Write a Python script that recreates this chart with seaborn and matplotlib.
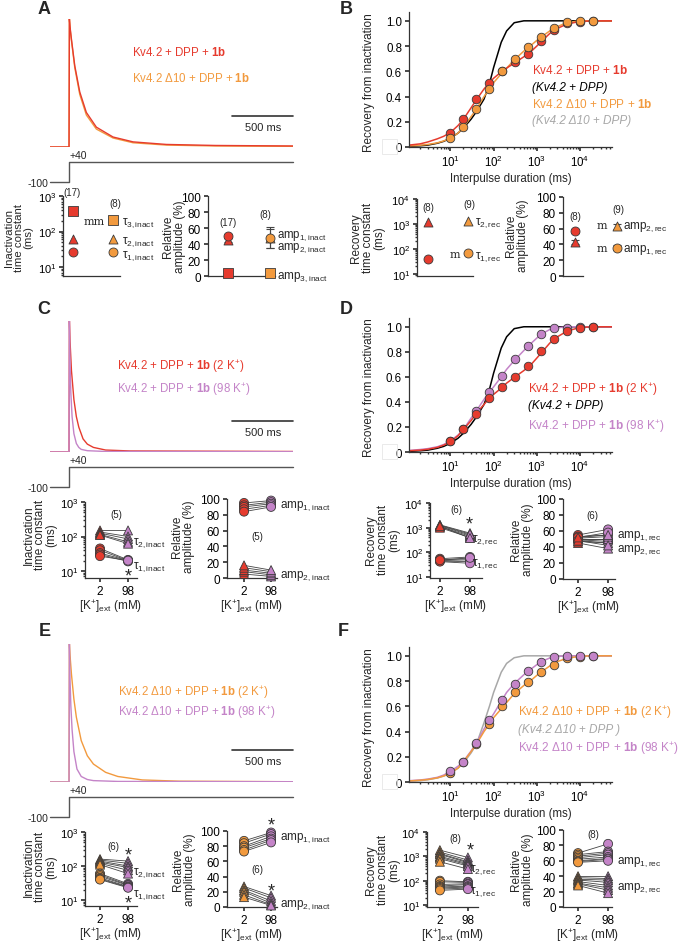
import numpy as np
import pandas as pd
import seaborn as sns
import matplotlib.pyplot as plt
from matplotlib.lines import Line2D
from matplotlib.patches import Rectangle
from matplotlib.ticker import LogLocator, LogFormatterSciNotation, NullFormatter

# colours
RED = "#E63B2E"
ORANGE = "#F29A3E"
PURPLE = "#C484C8"
GREY = "#A8A8A8"
EDGE = "#3a3a3a"

# ---------------- current traces (normalised, time in ms) ----------------
tA = [-156, 0, 3, 8, 20, 47, 88, 142, 224, 361, 525, 798, 1200, 1836]
iA_wt = [0, 0, 1.0, 0.94, 0.84, 0.635, 0.43, 0.27, 0.155, 0.078, 0.04, 0.02, 0.012, 0.008]
iA_d10 = [0, 0, 1.0, 0.93, 0.83, 0.62, 0.41, 0.25, 0.14, 0.07, 0.033, 0.015, 0.008, 0.005]

tC_2k = [-156, 0, 3, 8, 20, 40, 60, 80, 115, 150, 200, 300, 500, 1836]
iC_2k = [0, 0, 1.0, 0.85, 0.62, 0.40, 0.27, 0.19, 0.10, 0.06, 0.035, 0.015, 0.008, 0.004]
tC_98k = [-156, 0, 3, 8, 15, 25, 40, 60, 80, 100, 150, 300, 1836]
iC_98k = [0, 0, 1.0, 0.70, 0.45, 0.27, 0.14, 0.065, 0.035, 0.02, 0.01, 0.004, 0.002]

tE_2k = [-156, 0, 3, 8, 20, 40, 60, 100, 150, 200, 300, 400, 600, 900, 1836]
iE_2k = [0, 0, 1.0, 0.92, 0.78, 0.60, 0.47, 0.30, 0.19, 0.13, 0.07, 0.04, 0.015, 0.006, 0.002]
tE_98k = [-156, 0, 3, 8, 15, 25, 40, 65, 100, 150, 200, 400, 1836]
iE_98k = [0, 0, 1.0, 0.75, 0.55, 0.38, 0.22, 0.094, 0.04, 0.018, 0.01, 0.004, 0.002]

prot_t = [-156, 0, 0, 1836]
prot_v = [-100, -100, 40, 40]

# ---------------- recovery from inactivation ----------------
rec_t = [10, 20, 40, 80, 160, 320, 640, 1280, 2560, 5120, 10240, 20480]
recB_wt = [0.11, 0.22, 0.38, 0.51, 0.60, 0.67, 0.74, 0.84, 0.93, 0.98, 0.99, 1.0]
recB_d10 = [0.07, 0.16, 0.30, 0.46, 0.60, 0.70, 0.79, 0.87, 0.94, 0.99, 1.0, 1.0]
recD_2k = [0.09, 0.18, 0.30, 0.43, 0.52, 0.60, 0.69, 0.81, 0.90, 0.97, 0.99, 1.0]
recD_98k = [0.09, 0.18, 0.33, 0.48, 0.61, 0.74, 0.85, 0.94, 0.99, 0.99, 1.0, 1.0]
recF_2k = [0.07, 0.16, 0.30, 0.46, 0.60, 0.71, 0.79, 0.87, 0.93, 0.98, 0.99, 1.0]
recF_98k = [0.09, 0.16, 0.31, 0.49, 0.65, 0.78, 0.88, 0.95, 0.99, 1.0, 1.0, 1.0]

fit_x = [1.1, 2, 3, 5, 7, 10, 15, 20, 30, 40, 60, 80, 100, 150, 200, 300, 500, 700,
         1000, 1500, 2000, 3000, 5000, 10000, 20000, 55000]
fit_ctrl = [0.005, 0.01, 0.015, 0.03, 0.045, 0.07, 0.11, 0.15, 0.22, 0.28, 0.38, 0.5, 0.63,
            0.83, 0.92, 0.985, 1.0, 1.0, 1.0, 1.0, 1.0, 1.0, 1.0, 1.0, 1.0, 1.0]
fit_ctrl_d10 = [0.005, 0.01, 0.018, 0.032, 0.047, 0.07, 0.11, 0.15, 0.23, 0.30, 0.47, 0.60,
                0.71, 0.87, 0.94, 0.985, 1.0, 1.0, 1.0, 1.0, 1.0, 1.0, 1.0, 1.0, 1.0, 1.0]
fitB_wt = [0.015, 0.025, 0.04, 0.065, 0.085, 0.115, 0.17, 0.22, 0.31, 0.375, 0.46, 0.51, 0.545,
           0.595, 0.625, 0.665, 0.715, 0.75, 0.80, 0.86, 0.90, 0.94, 0.975, 0.995, 1.0, 1.0]
fitB_d10 = [0.008, 0.014, 0.02, 0.033, 0.048, 0.07, 0.11, 0.155, 0.24, 0.30, 0.40, 0.46, 0.51,
            0.58, 0.625, 0.69, 0.76, 0.80, 0.845, 0.89, 0.92, 0.955, 0.985, 1.0, 1.0, 1.0]
fitD_2k = [0.01, 0.015, 0.022, 0.037, 0.055, 0.08, 0.13, 0.18, 0.25, 0.31, 0.38, 0.43, 0.46,
           0.51, 0.55, 0.595, 0.65, 0.69, 0.75, 0.82, 0.87, 0.92, 0.965, 0.995, 1.0, 1.0]
fitD_98k = [0.012, 0.02, 0.027, 0.042, 0.06, 0.09, 0.135, 0.18, 0.27, 0.33, 0.42, 0.48, 0.52,
            0.60, 0.66, 0.73, 0.81, 0.86, 0.91, 0.955, 0.978, 0.992, 1.0, 1.0, 1.0, 1.0]
fitF_2k = [0.008, 0.014, 0.02, 0.033, 0.048, 0.07, 0.11, 0.16, 0.24, 0.30, 0.40, 0.46, 0.51,
           0.58, 0.63, 0.70, 0.765, 0.80, 0.845, 0.89, 0.92, 0.955, 0.98, 0.997, 1.0, 1.0]
fitF_98k = [0.01, 0.016, 0.023, 0.037, 0.055, 0.085, 0.125, 0.165, 0.245, 0.31, 0.42, 0.49, 0.54,
            0.64, 0.71, 0.78, 0.85, 0.89, 0.93, 0.965, 0.983, 0.995, 1.0, 1.0, 1.0, 1.0]

# ---------------- summary A / B (wt, d10) ----------------
A_tau_wt = [380, 61, 26]      # tau3, tau2, tau1
A_tau_d10 = [210, 61, 26]
A_amp_wt = [4, 45, 50]        # amp3, amp2, amp1
A_amp_d10 = [4, 48, 47]
A_amp_err_wt = [1, 3, 3]
A_amp_err_d10 = [1, 13, 12]
B_tau_wt = [1200, 40]         # tau2, tau1
B_tau_d10 = [1300, 69]
B_amp_wt = [43, 57]           # triangle, circle
B_amp_d10 = [63, 36]
B_amp_err = [3, 3]

# ---------------- paired data (2 mM vs 98 mM K+) ----------------
C_tau2 = ([150, 135, 125, 115, 110], [150, 100, 85, 70, 62])
C_tau1 = ([45, 40, 33, 30, 27], [21, 20, 20, 19, 20])
C_amp1 = ([95, 92, 90, 87, 84], [98, 96, 94, 92, 90])
C_amp2 = ([5, 8, 10, 13, 16], [2, 4, 6, 8, 10])

D_tau2 = ([1300, 1200, 1100, 1000, 1250, 1150], [600, 500, 450, 400, 550, 380])
D_tau1 = ([55, 50, 46, 44, 42, 48], [65, 55, 50, 42, 36, 60])
D_amp1 = ([55, 53, 50, 49, 52, 48], [62, 55, 50, 47, 58, 45])
D_amp2 = ([45, 47, 50, 51, 48, 52], [38, 45, 50, 53, 42, 55])

E_tau2 = ([160, 150, 140, 130, 120, 110], [140, 120, 100, 90, 75, 60])
E_tau1 = ([60, 55, 50, 45, 42, 40], [30, 28, 27, 25, 24, 23])
E_amp1 = ([87, 84, 80, 78, 75, 73], [98, 96, 93, 90, 88, 85])
E_amp2 = ([27, 25, 22, 20, 16, 13], [15, 12, 8, 5, 3, 2])

F_tau2 = ([1800, 1500, 1300, 1200, 1000, 900, 800, 600], [900, 700, 600, 550, 500, 450, 400, 300])
F_tau1 = ([100, 90, 70, 60, 55, 50, 45, 40], [90, 85, 75, 70, 60, 55, 50, 45])
F_amp1 = ([70, 68, 66, 64, 62, 60, 59, 58], [82, 72, 70, 68, 65, 63, 62, 60])
F_amp2 = ([40, 38, 36, 35, 33, 31, 30, 28], [40, 37, 35, 32, 28, 25, 22, 18])

# ---------------- style ----------------
sns.set_theme(style="ticks")
plt.rcParams['font.family'] = ['Liberation Sans', 'DejaVu Sans']
plt.rcParams['mathtext.fontset'] = 'custom'
plt.rcParams['mathtext.rm'] = 'Liberation Sans'
plt.rcParams['mathtext.it'] = 'Liberation Sans:italic'
plt.rcParams['mathtext.bf'] = 'Liberation Sans:bold'
plt.rcParams['axes.edgecolor'] = '#333333'
plt.rcParams['axes.linewidth'] = 0.9
plt.rcParams['xtick.color'] = '#333333'
plt.rcParams['ytick.color'] = '#333333'
plt.rcParams['xtick.labelcolor'] = 'black'
plt.rcParams['ytick.labelcolor'] = 'black'
plt.rcParams['xtick.major.size'] = 3
plt.rcParams['ytick.major.size'] = 3
plt.rcParams['xtick.minor.size'] = 1.5
plt.rcParams['ytick.minor.size'] = 1.5
plt.rcParams['xtick.major.pad'] = 2
plt.rcParams['ytick.major.pad'] = 2

W, H = 685, 945
fig = plt.figure(figsize=(W / 100, H / 100), dpi=100)


def box(l, t, r, b):
    return fig.add_axes([l / W, 1 - b / H, (r - l) / W, (b - t) / H])


def ptext(x, y, s, **kw):
    kw.setdefault('ha', 'left')
    kw.setdefault('va', 'center')
    fig.text(x / W, 1 - y / H, s, **kw)


def pline(xs, ys, **kw):
    fig.add_artist(Line2D([x / W for x in xs], [1 - y / H for y in ys], **kw))


def label_block(x, y, s, fs=8.5):
    ptext(x, y, s, rotation=90, ha='center', va='center', multialignment='center',
          fontsize=fs, linespacing=0.95)


def log_ticks(axis):
    axis.set_major_locator(LogLocator(base=10, numticks=12))
    axis.set_major_formatter(LogFormatterSciNotation())
    axis.set_minor_locator(LogLocator(base=10, subs=np.arange(2, 10), numticks=120))
    axis.set_minor_formatter(NullFormatter())


# ---------------- trace panels ----------------
def trace_panel(top, base, curves, bar_y, p_top, p_bot):
    ax = box(50, top, 293, base)
    ax.set_xlim(-156, 1836)
    ax.set_ylim(0, 1)
    ax.axis('off')
    for t, i, c in curves:
        sns.lineplot(x=t, y=i, ax=ax, color=c, lw=1.0, estimator=None, sort=False)
    ax.plot([-156, 1836], [0, 0], ls=(0, (1, 1.5)), color='#222222', lw=0.7, zorder=5)
    pline([232, 293], [bar_y, bar_y], color='#333333', lw=1.2)
    ptext(263, bar_y + 11, "500 ms", ha='center', fontsize=8)
    pax = box(50, p_top, 293, p_bot)
    pax.set_xlim(-156, 1836)
    pax.set_ylim(-100, 40)
    pax.axis('off')
    pax.plot(prot_t, prot_v, color='#555555', lw=1.0, clip_on=False)
    ptext(70, p_top - 7, "+40", fontsize=7.5)
    ptext(48, p_bot + 1, "-100", ha='right', fontsize=7.5)


trace_panel(20, 148, [(tA, iA_d10, ORANGE), (tA, iA_wt, RED)], 117, 163, 183)
ptext(132, 52, r"Kv4.2 + DPP + $\mathbf{1b}$", color=RED, fontsize=8.3)
ptext(132, 78, r"Kv4.2 Δ10 + DPP + $\mathbf{1b}$", color=ORANGE, fontsize=8.3)

trace_panel(322, 453, [(tC_2k, iC_2k, RED), (tC_98k, iC_98k, PURPLE)], 422, 468, 488)
ptext(117, 367, r"Kv4.2 + DPP + $\mathbf{1b}$ (2 K$^{+}$)", color=RED, fontsize=8.3)
ptext(117, 390, r"Kv4.2 + DPP + $\mathbf{1b}$ (98 K$^{+}$)", color=PURPLE, fontsize=8.3)

trace_panel(645, 783, [(tE_2k, iE_2k, ORANGE), (tE_98k, iE_98k, PURPLE)], 751, 798, 818)
ptext(118, 693, r"Kv4.2 Δ10 + DPP + $\mathbf{1b}$ (2 K$^{+}$)", color=ORANGE, fontsize=8.3)
ptext(118, 713, r"Kv4.2 Δ10 + DPP + $\mathbf{1b}$ (98 K$^{+}$)", color=PURPLE, fontsize=8.3)


# ---------------- recovery panels ----------------
def recovery(top, base, fits, pts, y_off):
    ax = box(409, top, 612, base)
    ax.set_xscale('log')
    for y, c in fits:
        sns.lineplot(x=fit_x, y=y, ax=ax, color=c, lw=1.1, estimator=None)
    for y, c in pts:
        sns.scatterplot(x=rec_t, y=y, ax=ax, color=c, s=38, edgecolor=EDGE,
                        linewidth=0.6, zorder=4, clip_on=False)
    ax.set_xlim(1.1, 55000)
    ax.set_ylim(0, 1.07)
    ax.set_yticks([0, 0.2, 0.4, 0.6, 0.8, 1.0])
    ax.set_yticklabels(["0", "0.2", "0.4", "0.6", "0.8", "1.0"], fontsize=8.3)
    log_ticks(ax.xaxis)
    ax.set_xticks([10, 100, 1000, 10000])
    ax.tick_params(axis='x', labelsize=8.3)
    ax.set_xlabel("Interpulse duration (ms)", fontsize=8.3, labelpad=2)
    ax.set_ylabel("")
    sns.despine(ax=ax)
    label_block(369, (top + base) / 2 + 2, "Recovery from inactivation", fs=8.5)
    fig.add_artist(Rectangle((382 / W, 1 - (y_off + 15) / H), 15 / W, 15 / H,
                             transform=fig.transFigure, fill=False, ec='#e6e6e6', lw=0.6))
    return ax


recovery(13, 148, [(fit_ctrl, 'black'), (fitB_d10, ORANGE), (fitB_wt, RED)],
         [(recB_wt, RED), (recB_d10, ORANGE)], 140)
ptext(532, 71, r"Kv4.2 + DPP + $\mathbf{1b}$", color=RED, fontsize=8.5)
ptext(532, 88, "(Kv4.2 + DPP)", color='black', fontsize=8.5, style='italic')
ptext(532, 105, r"Kv4.2 Δ10 + DPP + $\mathbf{1b}$", color=ORANGE, fontsize=8.5)
ptext(532, 121, "(Kv4.2 Δ10 + DPP)", color=GREY, fontsize=8.5, style='italic')

recovery(319, 453, [(fit_ctrl, 'black'), (fitD_98k, PURPLE), (fitD_2k, RED)],
         [(recD_98k, PURPLE), (recD_2k, RED)], 445)
ptext(528, 390, r"Kv4.2 + DPP + $\mathbf{1b}$ (2 K$^{+}$)", color=RED, fontsize=8.5)
ptext(528, 406, "(Kv4.2 + DPP)", color='black', fontsize=8.5, style='italic')
ptext(528, 427, r"Kv4.2 + DPP + $\mathbf{1b}$ (98 K$^{+}$)", color=PURPLE, fontsize=8.5)

recovery(648, 783, [(fit_ctrl_d10, GREY), (fitF_98k, PURPLE), (fitF_2k, ORANGE)],
         [(recF_2k, ORANGE), (recF_98k, PURPLE)], 775)
ptext(518, 713, r"Kv4.2 Δ10 + DPP + $\mathbf{1b}$ (2 K$^{+}$)", color=ORANGE, fontsize=8.5)
ptext(518, 730, "(Kv4.2 Δ10 + DPP )", color=GREY, fontsize=8.5, style='italic')
ptext(518, 749, r"Kv4.2 Δ10 + DPP + $\mathbf{1b}$ (98 K$^{+}$)", color=PURPLE, fontsize=8.5)


# ---------------- small axes helpers ----------------
def small_axes(ax, ylim, log, xlim, amp=False):
    if log:
        ax.set_yscale('log')
        log_ticks(ax.yaxis)
    ax.set_ylim(ylim)
    ax.set_xlim(xlim)
    if amp:
        ax.set_yticks([0, 20, 40, 60, 80, 100])
        ax.tick_params(axis='y', labelsize=8.5)
    else:
        ax.tick_params(axis='y', labelsize=8)
    ax.tick_params(axis='x', labelsize=8.5)
    ax.set_ylabel("")
    sns.despine(ax=ax)


def summary(l, t, r, b, ylim, log, xlim, wt, d10, markers, err_wt=None, err_d10=None):
    ax = box(l, t, r, b)
    for v, c, x0, err in [(wt, RED, 0, err_wt), (d10, ORANGE, 1, err_d10)]:
        for val, m, k in zip(v, markers, range(len(v))):
            if err is not None:
                ax.errorbar([x0], [val], yerr=[err[k]], fmt='none', ecolor='#444444',
                            elinewidth=0.8, capsize=3, capthick=0.8, clip_on=False)
            sns.scatterplot(x=[x0], y=[val], ax=ax, color=c, marker=m, s=42,
                            edgecolor=EDGE, linewidth=0.6, zorder=4, clip_on=False)
    small_axes(ax, ylim, log, xlim, amp=not log)
    ax.set_xticks([])
    return ax


def paired(l, t, r, b, ylim, log, xlim, series, c2, c98):
    ax = box(l, t, r, b)
    for marker, (v2, v98) in series:
        n = len(v2)
        df = pd.DataFrame({'cell': list(range(n)) * 2,
                           'k': [0] * n + [1] * n,
                           'cond': ['2'] * n + ['98'] * n,
                           'val': list(v2) + list(v98)})
        sns.lineplot(data=df, x='k', y='val', units='cell', estimator=None,
                     color='#444444', lw=0.6, ax=ax)
        sns.scatterplot(data=df, x='k', y='val', hue='cond', palette={'2': c2, '98': c98},
                        marker=marker, s=42, edgecolor=EDGE, linewidth=0.6, legend=False,
                        ax=ax, zorder=4, clip_on=False)
    small_axes(ax, ylim, log, xlim, amp=not log)
    ax.set_xticks([0, 1])
    ax.set_xticklabels(['2', '98'])
    ax.set_xlabel(r"[K$^{+}$]$_{\mathrm{ext}}$ (mM)", fontsize=8.5, labelpad=0)
    return ax


TAU_INACT = "Inactivation\ntime constant\n(ms)"
TAU_REC = "Recovery\ntime constant\n(ms)"
AMP = "Relative\namplitude (%)"

# ---- A summary
summary(63, 197, 120, 277, (5.6, 1000), True, (-0.25, 1.175), A_tau_wt, A_tau_d10, ['s', '^', 'o'])
summary(208, 197, 275, 277, (0, 100), False, (-0.476, 1.12), A_amp_wt, A_amp_d10, ['s', '^', 'o'],
        A_amp_err_wt, A_amp_err_d10)
label_block(19, 238, TAU_INACT, fs=8.2)
label_block(174, 237, AMP)
ptext(72, 193, "(17)", ha='center', fontsize=7)
ptext(115, 204, "(8)", ha='center', fontsize=7)
ptext(94, 222, "mm", ha='center', fontsize=8, family='DejaVu Serif')
ptext(122, 223, r"τ$_{\mathrm{3,inact}}$", fontsize=8.5)
ptext(122, 242, r"τ$_{\mathrm{2,inact}}$", fontsize=8.5)
ptext(122, 256, r"τ$_{\mathrm{1,inact}}$", fontsize=8.5)
ptext(228, 223, "(17)", ha='center', fontsize=7)
ptext(265, 215, "(8)", ha='center', fontsize=7)
ptext(277, 236, r"amp$_{\mathrm{1,inact}}$", fontsize=8.3)
ptext(277, 248, r"amp$_{\mathrm{2,inact}}$", fontsize=8.3)
ptext(277, 277, r"amp$_{\mathrm{3,inact}}$", fontsize=8.5)

# ---- B summary
summary(417, 200, 473, 277, (8.3, 1e4), True, (-0.275, 1.125), B_tau_wt, B_tau_d10, ['^', 'o'])
summary(563, 198, 583, 277, (0, 100), False, (-0.286, 0.19), B_amp_wt, B_amp_d10, ['^', 'o'],
        B_amp_err, B_amp_err)
label_block(368, 238, TAU_REC)
label_block(517, 236, AMP)
ptext(428, 208, "(8)", ha='center', fontsize=7)
ptext(469, 205, "(9)", ha='center', fontsize=7)
ptext(455, 255, "m", ha='center', fontsize=8, family='DejaVu Serif')
ptext(475, 223, r"τ$_{\mathrm{2,rec}}$", fontsize=8.5)
ptext(475, 257, r"τ$_{\mathrm{1,rec}}$", fontsize=8.5)
ptext(575, 217, "(8)", ha='center', fontsize=7)
ptext(618, 210, "(9)", ha='center', fontsize=7)
ptext(602, 226, "m", ha='center', fontsize=8, family='DejaVu Serif')
ptext(602, 249, "m", ha='center', fontsize=8, family='DejaVu Serif')
ptext(623, 227, r"amp$_{\mathrm{2,rec}}$", fontsize=8.5)
ptext(623, 250, r"amp$_{\mathrm{1,rec}}$", fontsize=8.5)

# ---- C paired
paired(85, 503, 137, 579, (6.27, 1000), True, (-0.536, 1.32), [('^', C_tau2), ('o', C_tau1)], RED, PURPLE)
paired(227, 500, 277, 579, (0, 100), False, (-0.63, 1.22), [('o', C_amp1), ('^', C_amp2)], RED, PURPLE)
label_block(40, 535, TAU_INACT)
label_block(183, 537, AMP)
ptext(116, 515, "(5)", ha='center', fontsize=7)
ptext(133, 543, r"τ$_{\mathrm{2,inact}}$", fontsize=8.5)
ptext(133, 567, r"τ$_{\mathrm{1,inact}}$", fontsize=8.5)
ptext(128, 577, "*", ha='center', fontsize=13)
ptext(257, 537, "(5)", ha='center', fontsize=7)
ptext(280, 506, r"amp$_{\mathrm{1,inact}}$", fontsize=8.5)
ptext(280, 576, r"amp$_{\mathrm{2,inact}}$", fontsize=8.5)

# ---- D paired
paired(430, 504, 482, 579, (9.1, 1e4), True, (-0.33, 1.4), [('^', D_tau2), ('o', D_tau1)], RED, PURPLE)
paired(563, 500, 615, 580, (0, 100), False, (-0.5, 1.23), [('o', D_amp1), ('^', D_amp2)], RED, PURPLE)
label_block(383, 540, TAU_REC)
label_block(522, 540, AMP)
ptext(456, 510, "(6)", ha='center', fontsize=7)
ptext(469, 525, "*", ha='center', fontsize=13)
ptext(472, 540, r"τ$_{\mathrm{2,rec}}$", fontsize=8.5)
ptext(472, 564, r"τ$_{\mathrm{1,rec}}$", fontsize=8.5)
ptext(592, 516, "(6)", ha='center', fontsize=7)
ptext(617, 536, r"amp$_{\mathrm{1,rec}}$", fontsize=8.5)
ptext(617, 550, r"amp$_{\mathrm{2,rec}}$", fontsize=8.5)

# ---- E paired
paired(85, 833, 137, 907, (6.7, 1000), True, (-0.536, 1.32), [('^', E_tau2), ('o', E_tau1)], ORANGE, PURPLE)
paired(227, 832, 277, 908, (0, 100), False, (-0.63, 1.22), [('o', E_amp1), ('^', E_amp2)], ORANGE, PURPLE)
label_block(40, 867, TAU_INACT)
label_block(184, 870, AMP)
ptext(113, 847, "(6)", ha='center', fontsize=7)
ptext(128, 856, "*", ha='center', fontsize=13)
ptext(128, 904, "*", ha='center', fontsize=13)
ptext(133, 873, r"τ$_{\mathrm{2,inact}}$", fontsize=8.5)
ptext(133, 895, r"τ$_{\mathrm{1,inact}}$", fontsize=8.5)
ptext(257, 870, "(6)", ha='center', fontsize=7)
ptext(271, 826, "*", ha='center', fontsize=13)
ptext(271, 892, "*", ha='center', fontsize=13)
ptext(280, 838, r"amp$_{\mathrm{1,inact}}$", fontsize=8.5)
ptext(280, 905, r"amp$_{\mathrm{2,inact}}$", fontsize=8.5)

# ---- F paired
paired(427, 833, 478, 908, (8.3, 1e4), True, (-0.46, 1.36), [('^', F_tau2), ('o', F_tau1)], ORANGE, PURPLE)
paired(563, 831, 612, 908, (0, 100), False, (-0.5, 1.13), [('o', F_amp1), ('^', F_amp2)], ORANGE, PURPLE)
label_block(383, 870, TAU_REC)
label_block(522, 870, AMP)
ptext(455, 839, "(8)", ha='center', fontsize=7)
ptext(470, 851, "*", ha='center', fontsize=13)
ptext(470, 870, r"τ$_{\mathrm{2,rec}}$", fontsize=8.5)
ptext(470, 892, r"τ$_{\mathrm{1,rec}}$", fontsize=8.5)
ptext(593, 835, "(8)", ha='center', fontsize=7)
ptext(617, 862, r"amp$_{\mathrm{1,rec}}$", fontsize=8.5)
ptext(617, 888, r"amp$_{\mathrm{2,rec}}$", fontsize=8.5)

# ---- panel letters
for s, x, y in [("A", 44, 9), ("B", 346, 9), ("C", 44, 310), ("D", 346, 310), ("E", 45, 632), ("F", 343, 632)]:
    ptext(x, y, s, ha='center', fontsize=13, fontweight='bold')

fig.savefig("out.png", dpi=100)
